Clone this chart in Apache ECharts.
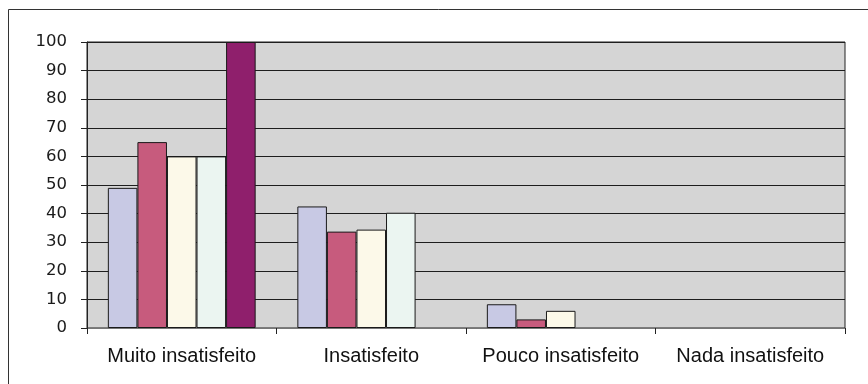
<!DOCTYPE html>
<html>
<head>
<meta charset="utf-8">
<script src="https://cdn.jsdelivr.net/npm/echarts@6/dist/echarts.min.js"></script>
<style>
  html, body { margin: 0; padding: 0; background: #ffffff; }
  #chart { width: 868px; height: 384px; }
</style>
</head>
<body>
<div id="chart"></div>
<script>
// Satisfaction levels (categories) and the five response series
const categories = ['Muito insatisfeito', 'Insatisfeito', 'Pouco insatisfeito', 'Nada insatisfeito'];
const serie1 = [49, 42.5, 8.3, null];
const serie2 = [65, 33.7, 3, null];
const serie3 = [60, 34.4, 6, null];
const serie4 = [60, 40.3, null, null];
const serie5 = [100, null, null, null];
const yTicks = [0, 10, 20, 30, 40, 50, 60, 70, 80, 90, 100];

const seriesNames = ['Série 1', 'Série 2', 'Série 3', 'Série 4', 'Série 5'];
const seriesData = [serie1, serie2, serie3, serie4, serie5];
const colors = ['#c8c9e4', '#c75b7d', '#fcf9e9', '#ebf5f1', '#8f1f6c'];

const chart = echarts.init(document.getElementById('chart'), null, { renderer: 'canvas' });

chart.setOption({
  animation: false,
  graphic: [{
    type: 'rect',
    shape: { x: 8.5, y: 9.5, width: 900, height: 420 },
    style: { fill: 'none', stroke: '#333333', lineWidth: 1 },
    silent: true
  }],
  grid: {
    left: 87, top: 42, right: 23, bottom: 56,
    show: true,
    backgroundColor: '#d5d5d5',
    borderColor: '#222222',
    borderWidth: 1
  },
  xAxis: {
    type: 'category',
    data: categories,
    axisLine: { show: true, lineStyle: { color: '#777777', width: 1 } },
    axisTick: { show: true, length: 6, lineStyle: { color: '#222222' } },
    axisLabel: {
      fontFamily: 'Liberation Sans, Arial, sans-serif',
      fontSize: 20,
      color: '#111111',
      margin: 18,
      interval: 0
    }
  },
  yAxis: {
    type: 'value',
    min: yTicks[0],
    max: yTicks[yTicks.length - 1],
    interval: 10,
    axisLine: { show: true, lineStyle: { color: '#222222', width: 1 } },
    axisTick: { show: true, length: 6, lineStyle: { color: '#222222' } },
    axisLabel: {
      fontFamily: 'DejaVu Sans, sans-serif',
      fontSize: 16.5,
      color: '#1a1a1a',
      margin: 20
    },
    splitLine: { show: true, lineStyle: { color: '#1e1e1e', width: 1 } }
  },
  series: seriesData.map((d, i) => ({
    name: seriesNames[i],
    type: 'bar',
    data: d,
    barGap: '0%',
    barCategoryGap: '22%',
    itemStyle: { color: colors[i], borderColor: '#1a1a1a', borderWidth: 1 }
  }))
});
</script>
</body>
</html>
